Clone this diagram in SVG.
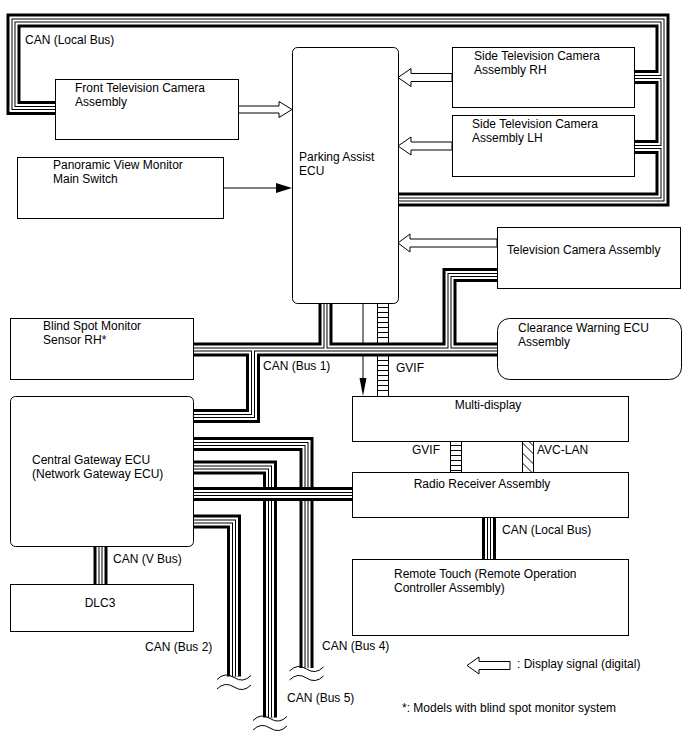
<svg xmlns="http://www.w3.org/2000/svg" width="688" height="755" viewBox="0 0 688 755">
<style>
.box{fill:#fff;stroke:#000;stroke-width:1}
text{font-family:"Liberation Sans",Arial,sans-serif;font-size:12px;fill:#000}
.mid{text-anchor:middle}
.b1{fill:none;stroke:#000;stroke-width:14;stroke-linejoin:miter;stroke-linecap:butt}
.b2{fill:none;stroke:#fff;stroke-width:8;stroke-linejoin:miter;stroke-linecap:butt}
.b3{fill:none;stroke:#000;stroke-width:4;stroke-linejoin:miter;stroke-linecap:butt}
.b4{fill:none;stroke:#fff;stroke-width:2;stroke-linejoin:miter;stroke-linecap:butt}
.ln{fill:none;stroke:#000;stroke-width:1}
.hollow{fill:#fff;stroke:#000;stroke-width:1;stroke-linejoin:miter}
.solid{fill:#000;stroke:none}
</style>
<defs>
<path id="p-loop" d="M55,108 H13.5 V20.5 H662.5 V199.5 H398 M634,77 H662.5 M634,147 H662.5"/>
<path id="p-bus1" d="M193,349.5 H497 M325.5,303 V349.5 M497,275 H449.5 V349.5 M253,349.5 V416 H193"/>
<path id="p-gw" d="M193,444 H306.5 V668 M193,467.5 H270 V717.5 M193,521.5 H234 V676.5"/>
<path id="p-radio" d="M193,494 H352"/>
<path id="p-vbus" d="M100.5,546 V584"/>
<path id="p-local2" d="M489,517 V559"/>
<path id="wave" d="M-17,3 Q-9,-5 0,1 T17,-1"/>
</defs>

<g id="connectors">
  <!-- signal line ECU to multi-display -->
  <path class="ln" d="M363,303 V380"/>
  <polygon class="solid" points="359.5,378 366.5,378 363,396"/>
  <!-- GVIF ladder upper -->
  <path class="ln" d="M377.5,303 V396 M388.5,303 V396 M377.5,307.5 h11 M377.5,312.5 h11 M377.5,317.5 h11 M377.5,322.5 h11 M377.5,327.5 h11 M377.5,332.5 h11 M377.5,337.5 h11 M377.5,360.5 h11 M377.5,365.5 h11 M377.5,370.5 h11 M377.5,375.5 h11 M377.5,380.5 h11 M377.5,385.5 h11 M377.5,390.5 h11"/>
  <!-- loop CAN local bus -->
  <g id="can-local-loop">
    <use href="#p-loop" class="b1"/><use href="#p-loop" class="b2"/><use href="#p-loop" class="b3"/><use href="#p-loop" class="b4"/>
  </g>
  <!-- CAN bus 1 -->
  <g id="can-bus1">
    <use href="#p-bus1" class="b1"/><use href="#p-bus1" class="b2"/><use href="#p-bus1" class="b3"/><use href="#p-bus1" class="b4"/>
  </g>
  <!-- CAN bus 2/4/5 -->
  <g id="can-bus245">
    <use href="#p-gw" class="b1"/><use href="#p-gw" class="b2"/><use href="#p-gw" class="b3"/><use href="#p-gw" class="b4"/>
  </g>
  <g id="can-radio">
    <use href="#p-radio" class="b1"/><use href="#p-radio" class="b2"/><use href="#p-radio" class="b3"/><use href="#p-radio" class="b4"/>
  </g>
  <g id="can-vbus">
    <use href="#p-vbus" class="b1"/><use href="#p-vbus" class="b2"/><use href="#p-vbus" class="b3"/><use href="#p-vbus" class="b4"/>
  </g>
  <g id="can-local2">
    <use href="#p-local2" class="b1"/><use href="#p-local2" class="b2"/><use href="#p-local2" class="b3"/><use href="#p-local2" class="b4"/>
  </g>
  <!-- wave breaks -->
  <use href="#wave" class="ln" transform="translate(234,676.5)"/>
  <use href="#wave" class="ln" transform="translate(234,686)"/>
  <use href="#wave" class="ln" transform="translate(306.5,668)"/>
  <use href="#wave" class="ln" transform="translate(306.5,677)"/>
  <use href="#wave" class="ln" transform="translate(270,717.5)"/>
  <use href="#wave" class="ln" transform="translate(270,727)"/>
  <!-- GVIF ladder lower -->
  <path class="ln" d="M450.5,441 V472 M461.5,441 V472 M450.5,445.5 h11 M450.5,450.5 h11 M450.5,455.5 h11 M450.5,460.5 h11 M450.5,465.5 h11 M450.5,470.5 h11"/>
  <!-- AVC-LAN hatched -->
  <path class="ln" d="M522.5,441 V472 M533.5,441 V472 M522.5,443 L533.5,454 M522.5,453 L533.5,464 M522.5,463 L531.5,472 M528.5,441 L533.5,446"/>
  <!-- panoramic switch arrow -->
  <path class="ln" d="M223,188 H277"/>
  <polygon class="solid" points="276,183 292,188 276,193"/>
  <!-- display signal arrows -->
  <polygon class="hollow" points="238,106 279,106 279,101.5 292,109.5 279,117.5 279,113 238,113"/>
  <polygon class="hollow" points="452,73.5 411,73.5 411,68.5 398,77.5 411,86.5 411,81.5 452,81.5"/>
  <polygon class="hollow" points="452,142 411,142 411,137 398,146 411,155 411,150 452,150"/>
  <polygon class="hollow" points="497,239 410,239 410,234 398,243 410,252 410,247 497,247"/>
</g>

<g id="labels">
  <text x="25" y="44">CAN (Local Bus)</text>
  <text x="263" y="370">CAN (Bus 1)</text>
  <text x="396" y="371.5">GVIF</text>
  <text x="412" y="453.5">GVIF</text>
  <text x="537" y="453.5">AVC-LAN</text>
  <text x="502" y="533.5">CAN (Local Bus)</text>
  <text x="113" y="562.5">CAN (V Bus)</text>
  <text x="145" y="651">CAN (Bus 2)</text>
  <text x="322" y="650">CAN (Bus 4)</text>
  <text x="287" y="702">CAN (Bus 5)</text>
</g>

<g id="front-camera">
  <rect class="box" x="55.5" y="79.5" width="183" height="60"/>
  <text x="75" y="92">Front Television Camera</text>
  <text x="75" y="106">Assembly</text>
</g>
<g id="panoramic-switch">
  <rect class="box" x="17.5" y="157.5" width="206" height="61"/>
  <text x="53" y="169">Panoramic View Monitor</text>
  <text x="53" y="183">Main Switch</text>
</g>
<g id="parking-assist-ecu">
  <rect class="box" x="292.5" y="47.5" width="106" height="256" rx="5"/>
  <text x="299" y="161">Parking Assist</text>
  <text x="299" y="175">ECU</text>
</g>
<g id="side-camera-rh">
  <rect class="box" x="452.5" y="47.5" width="182" height="60"/>
  <text x="474" y="60">Side Television Camera</text>
  <text x="474" y="74">Assembly RH</text>
</g>
<g id="side-camera-lh">
  <rect class="box" x="452.5" y="115.5" width="182" height="61"/>
  <text x="472" y="127.5">Side Television Camera</text>
  <text x="472" y="141.5">Assembly LH</text>
</g>
<g id="tv-camera">
  <rect class="box" x="497.5" y="227.5" width="183" height="61"/>
  <text x="507" y="254">Television Camera Assembly</text>
</g>
<g id="bsm-sensor">
  <rect class="box" x="10.5" y="318.5" width="183" height="61"/>
  <text x="43" y="330">Blind Spot Monitor</text>
  <text x="43" y="344">Sensor RH*</text>
</g>
<g id="clearance-ecu">
  <rect class="box" x="497.5" y="318.5" width="184" height="61" rx="12"/>
  <text x="518" y="332">Clearance Warning ECU</text>
  <text x="518" y="346">Assembly</text>
</g>
<g id="central-gateway">
  <rect class="box" x="10.5" y="396.5" width="183" height="150" rx="5"/>
  <text x="32" y="464">Central Gateway ECU</text>
  <text x="32" y="478">(Network Gateway ECU)</text>
</g>
<g id="dlc3">
  <rect class="box" x="10.5" y="584.5" width="183" height="47"/>
  <text class="mid" x="100" y="606.5">DLC3</text>
</g>
<g id="multi-display">
  <rect class="box" x="352.5" y="396.5" width="276" height="45"/>
  <text class="mid" x="488" y="409">Multi-display</text>
</g>
<g id="radio-receiver">
  <rect class="box" x="352.5" y="472.5" width="276" height="45"/>
  <text class="mid" x="482" y="487.5">Radio Receiver Assembly</text>
</g>
<g id="remote-touch">
  <rect class="box" x="352.5" y="559.5" width="276" height="76"/>
  <text x="394" y="578">Remote Touch (Remote Operation</text>
  <text x="394" y="592">Controller Assembly)</text>
</g>
<g id="legend">
  <polygon class="hollow" points="510,661.5 479,661.5 479,657 467,665.5 479,674 479,669.5 510,669.5"/>
  <text x="517" y="668">: Display signal (digital)</text>
  <text x="402" y="711.5">*: Models with blind spot monitor system</text>
</g>
</svg>
